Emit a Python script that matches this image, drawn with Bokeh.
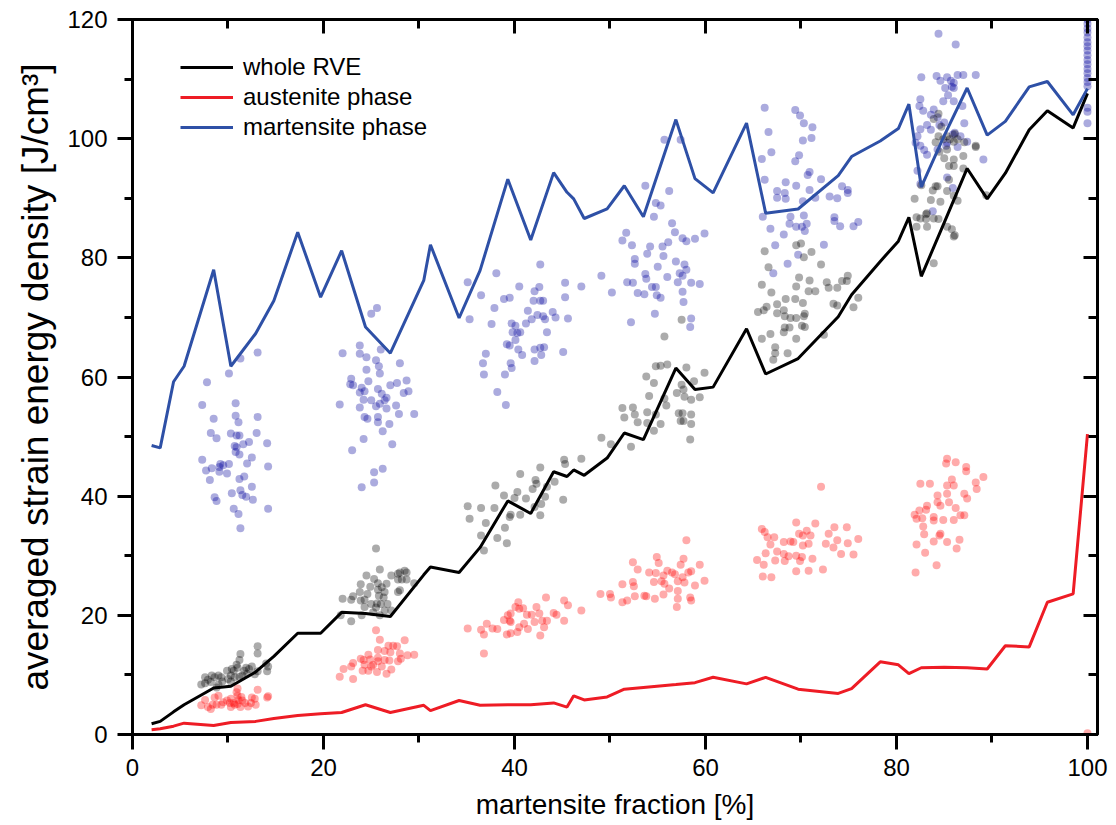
from bokeh.plotting import figure
from bokeh.models import Range1d, LinearAxis, SingleIntervalTicker, Legend, LegendItem
from bokeh.embed import file_html
from bokeh.resources import INLINE

# ---- averaged curves ----
fraction = [2.0, 2.9, 4.3, 5.4, 8.5, 10.3, 12.9, 14.8, 17.3, 19.7, 21.9, 24.4, 27.0, 30.5, 31.2,
            34.2, 36.4, 39.3, 41.7, 44.1, 45.5, 46.2, 47.3, 49.7, 51.5, 53.5, 56.9, 58.9, 60.8,
            64.3, 66.3, 69.7, 73.9, 75.3, 78.3, 80.2, 81.3, 82.6, 85.0, 87.4, 89.5, 91.4, 93.9,
            95.8, 98.5, 100.0]
whole_rve = [1.8, 2.2, 3.8, 5.0, 7.8, 8.1, 10.5, 13.1, 17.0, 17.0, 20.5, 20.3, 19.8, 26.8, 28.1,
             27.2, 31.4, 39.2, 37.1, 44.1, 43.3, 44.4, 43.5, 46.4, 50.6, 49.5, 61.5, 57.9, 58.3,
             68.1, 60.5, 63.1, 70.1, 73.8, 79.4, 82.8, 86.8, 76.9, 85.9, 95.0, 89.9, 94.2, 101.5,
             104.7, 101.8, 107.6]
austenite = [0.8, 0.95, 1.4, 1.9, 1.5, 2.0, 2.2, 2.7, 3.2, 3.5, 3.7, 5.0, 3.7, 4.9, 4.0,
             5.7, 4.9, 5.0, 5.0, 5.3, 4.6, 6.5, 5.8, 6.3, 7.6, 7.9, 8.4, 8.7, 9.6,
             8.5, 9.6, 7.6, 6.9, 7.7, 12.2, 11.7, 10.2, 11.2, 11.3, 11.2, 11.0, 14.9, 14.7,
             22.2, 23.6, 50.4]
martensite = [48.5, 48.1, 59.2, 61.8, 78.0, 61.8, 67.3, 72.8, 84.3, 73.4, 81.2, 68.4, 64.0, 76.2, 82.2,
              69.9, 77.9, 93.2, 83.0, 94.3, 91.0, 89.9, 86.6, 88.2, 92.1, 86.9, 103.2, 93.3, 90.9,
              102.6, 87.5, 88.2, 93.8, 97.0, 99.6, 101.7, 105.8, 91.9, 100.5, 108.5, 100.6, 102.9, 108.7,
              109.6, 104.0, 108.4]

# ---- individual RVE results (fraction, energy) ----
martensite_pts = [
    (7.8,59.1),(7.3,55.3),(8.5,53.0),(8.2,50.6),(8.8,49.7),(7.3,46.1),(8.3,44.7),(7.7,44.3),(8.1,42.7),(9.1,44.9),
    (9.2,45.4),(9.5,45.2),(9.1,44.1),(9.9,43.8),(10.1,45.4),(10.8,55.6),(10.8,53.5),(11.1,52.4),(10.3,50.5),(10.9,50.2),
    (11.2,50.2),(10.7,48.4),(10.9,48.2),(10.8,47.4),(11.2,47.0),(11.6,48.7),(12.2,49.1),(13.0,50.6),(13.1,53.3),(14.1,48.9),
    (14.2,45.0),(12.0,45.5),(12.5,46.5),(11.7,43.3),(11.2,42.9),(11.3,41.0),(10.4,40.5),(11.5,40.2),(11.9,39.9),(12.6,39.4),
    (12.5,41.6),(8.6,39.8),(8.8,39.2),(10.6,37.9),(11.1,37.0),(11.3,34.6),(14.2,37.9),(13.1,64.1),(11.3,63.1),(10.1,60.6),
    (22.0,64.0),(23.8,65.3),(23.8,63.9),(24.5,63.3),(25.5,62.8),(26.0,64.6),(25.8,61.8),(25.9,60.6),(24.5,61.2),(28.0,62.3),
    (22.9,59.7),(23.1,58.6),(22.8,58.8),(24.0,58.2),(23.8,57.4),(24.3,57.6),(24.7,59.3),(25.7,58.0),(26.1,57.2),(26.6,56.5),
    (27.0,58.6),(27.7,59.0),(28.7,59.4),(28.4,57.3),(28.9,57.6),(24.2,56.2),(23.8,54.9),(25.0,56.1),(25.5,55.1),(25.9,55.5),
    (26.4,56.1),(26.6,54.7),(27.6,55.2),(27.9,53.8),(29.5,53.8),(21.7,55.4),(24.3,53.3),(24.6,53.0),(25.7,53.3),(25.7,52.4),
    (26.9,52.1),(26.2,50.9),(24.2,49.6),(27.2,48.7),(23.0,47.7),(25.3,44.0),(26.2,44.6),(24.0,41.5),(25.3,42.3),(25.0,70.6),
    (25.6,71.6),
    (35.1,75.9),(38.1,77.4),(36.5,73.7),(37.9,71.6),(35.3,69.7),(37.6,68.9),(38.9,73.1),(39.5,73.3),(40.5,75.2),(42.6,75.1),
    (42.1,74.4),(42.0,72.8),(42.7,72.8),(43.0,72.8),(41.4,71.1),(42.4,70.4),(43.0,70.2),(43.2,69.7),(44.0,70.9),(44.3,70.0),
    (41.8,69.7),(41.2,69.0),(39.7,69.0),(40.1,68.6),(40.3,67.4),(39.8,67.5),(40.1,66.2),(39.2,65.5),(39.5,65.3),(40.4,64.6),
    (40.8,63.7),(42.1,64.6),(42.7,64.9),(43.1,65.0),(42.8,63.7),(42.1,62.7),(43.4,67.5),(45.1,64.2),(45.6,69.8),(45.3,73.4),
    (45.3,75.8),(42.7,78.9),(47.0,75.2),(37.0,63.9),(36.7,62.3),(36.8,60.4),(39.0,60.4),(39.7,61.5),(39.6,62.3),(38.2,57.5),
    (39.1,55.3),(40.6,67.5),
    (53.7,92.1),(56.2,91.2),(54.8,89.2),(55.3,88.8),(54.6,86.9),(56.5,85.8),(56.8,84.3),(57.6,83.3),(58.0,82.8),(58.9,83.2),
    (59.9,84.1),(56.1,82.6),(55.5,81.9),(55.6,80.3),(54.2,81.9),(53.9,80.7),(52.3,82.1),(51.7,84.2),(51.3,82.9),(52.6,79.8),
    (52.6,79.0),(53.7,77.3),(53.8,76.5),(55.0,78.5),(56.0,76.8),(56.9,79.4),(57.8,78.9),(58.0,78.0),(57.3,77.4),(57.6,77.0),
    (57.1,75.9),(58.5,75.8),(59.4,75.6),(51.8,75.9),(52.4,75.8),(52.9,74.1),(53.6,73.9),(54.4,75.1),(54.8,75.1),(54.9,73.7),
    (55.3,73.3),(57.6,74.3),(57.7,72.6),(54.7,70.6),(52.2,69.2),(58.5,69.8),(58.4,68.4),(55.7,99.8),(57.4,99.8),(49.1,77.0),
    (50.2,74.2),
    (66.2,105.2),(69.4,104.8),(69.9,103.9),(70.3,102.6),(71.2,101.9),(71.1,100.1),(66.6,101.1),(70.2,99.7),(66.9,97.7),(69.8,97.2),
    (69.4,96.2),(65.9,96.6),(66.2,93.1),(68.4,92.7),(69.5,92.1),(70.7,93.9),(70.9,94.4),(72.1,93.2),(70.9,91.4),(67.5,91.2),
    (68.3,90.9),(68.4,89.9),(67.5,90.1),(70.2,89.5),(71.5,90.1),(73.0,90.3),(73.8,90.0),(74.3,92.0),(74.9,91.4),(74.9,90.9),
    (66.0,86.9),(68.9,86.9),(70.3,87.1),(68.8,85.7),(69.5,85.2),(70.1,85.2),(70.6,85.7),(70.4,84.5),(73.5,86.8),(73.5,86.2),
    (74.1,85.3),(75.5,85.3),(76.0,86.0),(66.8,84.9),(68.2,83.9),(67.3,82.1),(69.7,80.5),(72.4,82.2),(68.6,79.0),(67.1,77.4),
    (84.4,117.6),(86.2,115.8),(82.6,110.3),(84.2,110.5),(84.6,109.7),(85.3,110.3),(85.7,109.7),(86.0,109.4),(86.4,110.7),(87.0,110.7),
    (88.3,110.7),(85.1,108.5),(85.8,108.7),(86.0,108.5),(85.4,107.3),(82.5,106.6),(84.9,106.3),(86.0,106.3),(86.9,105.5),(82.4,105.5),
    (82.8,104.7),(83.9,104.9),(83.6,104.0),(84.3,103.6),(83.2,102.3),(82.5,101.6),(83.6,101.5),(84.5,102.3),(85.0,102.7),(86.1,101.0),
    (86.7,100.4),(87.1,102.6),(87.4,99.5),(85.9,100.7),(82.2,100.4),(82.0,99.3),(82.5,98.8),(82.9,98.1),(83.2,97.3),(84.3,98.2),
    (85.2,98.8),(86.4,98.6),(89.1,96.5),(82.2,94.6),(85.3,93.5),(85.9,91.7),(83.8,87.8),(82.5,92.4),(85.3,99.3),
    (100.0,120.0),(100.0,119.3),(100.0,118.5),(100.0,117.8),(100.0,117.0),(100.0,116.2),(100.0,115.5),(100.0,114.8),
    (100.0,114.0),(100.0,113.2),(100.0,112.5),(100.0,111.7),(100.0,111.0),(100.0,110.2),(100.0,109.5),(100.0,108.8),
    (100.0,105.2),(100.0,104.5),(100.0,102.6),
]

whole_pts = [
    (13.1,14.8),(13.1,13.6),(11.3,13.5),(11.2,12.5),(10.9,11.7),(10.4,11.0),(9.9,10.7),(10.6,10.7),(11.0,11.2),(11.7,10.7),
    (11.9,11.2),(12.2,11.0),(12.5,11.4),(13.1,10.6),(12.8,10.1),(10.3,9.9),(10.7,9.6),(11.2,9.7),(11.5,9.9),(12.0,10.2),
    (14.2,11.4),(14.1,10.6),(14.0,11.9),(9.0,9.9),(9.3,9.6),(8.6,9.6),(8.3,9.9),(7.6,9.6),(7.9,9.2),(7.2,8.4),
    (7.6,8.6),(8.2,8.8),(9.0,8.4),(9.4,8.9),(10.0,9.3),(10.3,8.9),(8.8,7.9),
    (25.9,27.7),(24.5,26.7),(25.3,26.1),(25.7,25.4),(23.9,25.2),(24.9,24.8),(26.6,25.3),(27.1,26.7),(27.8,27.0),(28.5,27.5),
    (28.0,27.2),(28.7,27.2),(27.8,26.0),(28.2,26.0),(28.7,26.0),(29.5,25.4),(23.8,23.9),(24.6,23.6),(25.7,24.3),(26.1,24.7),
    (26.4,23.9),(27.8,23.9),(28.0,24.2),(22.0,22.8),(22.9,22.6),(23.1,23.2),(23.9,22.5),(24.3,22.6),(25.8,23.3),(26.3,23.0),
    (25.0,21.9),(25.6,22.0),(26.0,21.9),(26.7,21.9),(24.3,21.4),(25.5,21.3),(26.4,20.8),(21.8,20.0),(22.9,19.0),(24.0,20.0),
    (25.2,20.5),(27.1,20.8),(25.9,20.0),(25.5,31.2),
    (38.0,41.8),(38.9,40.1),(40.6,43.7),(42.7,44.8),(42.2,42.7),(41.9,41.2),(42.3,42.1),(43.4,41.6),(44.2,42.4),(45.2,46.1),
    (45.3,45.4),(47.0,46.3),(45.1,39.4),(42.7,36.8),(43.2,39.9),(40.3,40.7),(40.0,39.7),(39.6,36.9),(39.5,36.5),(40.6,36.9),
    (41.2,39.6),(42.1,38.2),(37.9,38.0),(36.5,38.0),(37.0,35.5),(39.0,34.7),(39.2,32.1),(38.2,33.0),(36.8,30.9),(36.5,33.4),
    (42.8,38.7),(35.1,38.3),(35.3,36.2),
    (55.7,66.8),(54.8,61.8),(55.3,61.9),(56.0,62.1),(53.8,60.1),(54.6,59.0),(58.0,61.6),(59.9,60.7),(58.8,59.3),(57.5,58.7),
    (57.7,57.9),(57.0,57.3),(57.8,56.7),(58.5,56.2),(59.4,56.6),(54.1,56.8),(55.7,56.4),(55.9,55.2),(51.3,54.8),(52.4,54.9),
    (51.5,53.2),(52.6,53.7),(52.9,52.4),(53.9,54.1),(53.9,52.3),(54.8,53.7),(55.3,52.1),(54.6,51.0),(57.2,53.9),(57.6,53.9),
    (57.4,52.6),(58.5,53.7),(58.5,52.1),(57.7,52.6),(58.4,49.5),(49.1,49.8),(50.1,48.7),(52.2,48.3),(57.5,69.6),
    (69.5,82.1),(70.0,82.4),(71.1,81.0),(70.3,80.1),(66.2,81.1),(72.1,78.9),(66.6,78.4),(69.8,76.7),(65.9,75.5),(66.9,74.2),
    (68.4,73.1),(69.4,73.1),(70.8,74.4),(71.5,74.4),(70.2,72.4),(69.5,75.2),(70.9,76.2),(72.7,75.9),(72.9,75.0),(73.8,75.0),
    (74.3,76.1),(74.8,76.1),(74.9,77.0),(76.0,73.3),(75.5,71.7),(73.4,72.3),(73.8,72.0),(65.5,70.9),(66.1,71.2),(66.4,71.8),
    (67.5,72.2),(67.5,70.7),(68.2,71.2),(68.3,70.2),(68.9,69.9),(69.5,69.9),(70.3,70.2),(70.4,70.6),(70.1,68.6),(70.4,68.4),
    (68.3,68.3),(68.8,68.3),(65.9,66.4),(66.8,67.2),(68.2,67.5),(69.5,66.4),(72.4,67.1),(67.3,65.0),(67.3,64.0),(67.1,62.9),
    (68.6,64.0),
    (84.4,104.2),(83.9,103.3),(84.7,102.0),(84.4,100.4),(84.1,99.4),(84.9,99.9),(85.3,100.4),(85.6,99.9),(86.0,99.5),(86.4,99.9),
    (87.1,99.4),(88.3,98.8),(86.1,100.8),(85.3,98.2),(84.5,97.8),(85.0,96.7),(86.0,96.5),(85.5,95.4),(86.0,95.4),(87.0,97.1),
    (87.0,95.0),(84.3,92.0),(84.1,92.0),(83.8,91.3),(82.6,92.2),(85.3,91.2),(85.5,93.1),(86.0,90.4),(81.9,89.9),(83.6,89.7),
    (84.6,89.4),(86.4,89.6),(82.5,86.6),(82.1,85.2),(83.1,86.5),(83.2,87.5),(84.4,86.5),(85.3,85.2),(85.8,84.8),(86.0,83.6),
    (83.9,79.1),(89.4,90.5),(82.1,86.8),(83.1,87.3),(83.9,86.6),(83.2,85.2),(86.1,83.8),(88.3,98.6),
]

austenite_pts = [
    (7.2,4.9),(7.6,5.8),(7.9,4.6),(8.2,4.3),(8.4,5.0),(8.6,6.2),(8.8,5.0),(9.0,6.5),(9.3,5.0),(9.5,5.4),
    (9.9,5.7),(10.3,6.0),(10.2,5.3),(10.3,4.6),(10.7,5.0),(10.9,7.1),(11.0,6.5),(11.1,5.8),(11.0,5.1),(11.3,4.6),
    (11.5,5.7),(11.8,5.3),(12.1,4.7),(12.4,5.3),(12.5,6.2),(12.9,5.0),(13.1,7.5),(12.8,6.0),(14.1,6.2),(14.2,6.4),
    (11.0,7.7),(10.6,5.3),(11.4,6.3),
    (25.5,17.5),(25.9,15.9),(25.7,14.2),(26.8,14.9),(27.3,14.9),(27.7,14.8),(28.5,15.8),(27.0,13.8),(26.4,14.0),(28.0,13.6),
    (28.8,13.3),(29.5,13.4),(24.7,13.4),(23.9,12.7),(24.2,12.5),(24.9,12.6),(25.7,12.9),(26.4,12.5),(26.9,12.4),(27.8,12.3),
    (28.1,12.7),(25.2,11.7),(25.7,12.3),(26.1,11.4),(27.1,10.9),(26.6,10.2),(25.6,10.5),(24.7,10.7),(24.3,11.7),(23.1,12.0),
    (22.9,11.4),(22.1,11.0),(21.7,9.7),(23.1,9.3),(25.0,11.4),(24.1,10.7),
    (35.1,17.8),(36.5,17.6),(36.8,16.8),(36.8,13.6),(37.1,18.6),(37.7,17.8),(38.2,17.7),(38.9,19.2),(39.3,20.0),(39.6,18.9),
    (39.6,20.3),(40.1,21.4),(40.4,22.2),(40.5,21.1),(40.9,21.2),(40.5,18.0),(41.0,18.6),(41.3,20.1),(41.4,17.7),(42.1,18.9),
    (41.8,20.1),(42.3,21.4),(42.6,20.3),(42.9,19.1),(42.7,16.6),(43.3,23.0),(43.1,18.0),(43.4,19.1),(44.1,20.4),(44.4,20.1),
    (45.2,22.5),(45.6,21.7),(45.2,19.1),(47.0,20.8),(39.2,16.8),(39.6,17.0),(40.3,17.2),(39.5,19.1),
    (58.0,32.6),(52.4,28.9),(52.9,27.7),(54.9,29.8),(55.1,28.8),(54.1,27.2),(54.8,27.1),(56.0,27.5),(56.5,27.2),(56.8,26.9),
    (57.4,28.5),(57.7,29.5),(58.2,27.2),(58.5,27.4),(59.4,28.5),(55.6,26.7),(55.4,25.7),(54.6,25.6),(55.7,25.3),(56.2,24.5),
    (57.1,25.7),(57.6,26.4),(57.8,25.5),(58.9,25.0),(59.9,25.8),(57.1,24.1),(55.6,23.5),(54.7,22.8),(53.8,23.2),(53.6,23.3),
    (52.6,23.2),(51.8,22.5),(51.3,22.2),(51.3,25.2),(52.4,25.6),(52.5,24.9),(57.1,22.8),(58.4,23.0),(58.5,22.5),(57.0,21.4),
    (50.1,23.0),(49.0,23.6),(50.0,23.6),
    (72.1,41.6),(69.5,35.6),(71.5,35.4),(73.5,34.8),(74.8,34.8),(65.9,34.5),(66.2,34.0),(66.5,33.1),(67.2,33.1),(68.2,32.3),
    (68.9,32.4),(69.2,32.3),(69.8,33.7),(70.2,33.4),(70.6,34.2),(71.0,33.4),(72.9,33.7),(73.8,32.6),(76.0,32.8),(66.8,31.9),
    (70.2,31.7),(70.8,32.0),(72.6,32.0),(73.4,31.4),(74.9,32.1),(65.4,29.3),(66.3,30.4),(67.5,30.7),(68.2,30.3),(68.7,29.9),
    (69.5,30.0),(70.1,29.8),(71.2,29.5),(68.3,29.1),(67.3,29.2),(66.1,28.5),(69.9,29.1),(74.2,30.3),(75.5,30.2),(66.0,26.5),
    (66.9,26.4),(69.5,27.4),(70.8,27.5),(72.3,27.7),
    (85.3,46.3),(85.2,45.5),(86.2,45.7),(87.3,44.9),(87.3,44.2),(89.1,43.2),(88.3,42.3),(88.4,41.2),(82.5,42.1),(83.5,42.1),
    (85.8,42.8),(85.3,41.8),(86.0,41.8),(84.3,40.1),(85.3,40.4),(87.1,40.4),(87.4,39.6),(84.3,39.0),(84.6,38.4),(85.5,39.0),
    (86.2,38.0),(83.2,38.4),(83.1,37.7),(82.4,37.6),(81.9,36.9),(82.1,36.2),(82.7,36.3),(83.9,36.5),(84.9,36.0),(86.0,36.0),
    (86.7,36.8),(87.1,36.8),(82.8,34.9),(83.9,35.9),(84.6,33.7),(84.5,33.4),(82.9,33.6),(83.9,32.4),(85.3,32.3),(86.6,32.7),
    (82.1,31.9),(83.0,30.5),(86.3,31.2),(84.2,28.4),(82.0,27.2),
    (100.0,0.2),
]

FONT = "Liberation Sans"

p = figure(width=1116, height=825, output_backend="svg", toolbar_location=None,
           x_range=Range1d(0, 101.05), y_range=Range1d(0, 120),
           min_border_left=132, min_border_right=19, min_border_top=19, min_border_bottom=91)
p.background_fill_color = "white"
p.border_fill_color = "white"
p.grid.visible = False
p.outline_line_color = "black"
p.outline_line_width = 3


def style_axis(ax, inward=False):
    ax.ticker = SingleIntervalTicker(interval=20, num_minor_ticks=2)
    ax.axis_line_width = 3
    ax.axis_line_color = "black"
    ax.major_tick_line_width = 3
    ax.minor_tick_line_width = 3
    ax.major_tick_line_color = "black"
    ax.minor_tick_line_color = "black"
    if inward:
        ax.major_tick_in = 14
        ax.major_tick_out = 0
        ax.minor_tick_in = 9
        ax.minor_tick_out = 0
        ax.major_label_text_font_size = "1px"
        ax.major_label_text_color = None
        ax.major_label_text_alpha = 0
        ax.major_label_standoff = 0
    else:
        ax.major_tick_in = 0
        ax.major_tick_out = 15
        ax.minor_tick_in = 0
        ax.minor_tick_out = 8
        ax.major_label_text_font = FONT
        ax.major_label_text_font_size = "24px"
        ax.major_label_text_color = "black"
        ax.axis_label_text_font = FONT
        ax.axis_label_text_font_style = "normal"
        ax.axis_label_text_color = "black"


style_axis(p.xaxis[0])
style_axis(p.yaxis[0])
p.xaxis[0].axis_label = "martensite fraction [%]"
p.yaxis[0].axis_label = "averaged strain energy density [J/cm³]"
p.xaxis[0].axis_label_text_font_size = "28px"
p.yaxis[0].axis_label_text_font_size = "37px"
p.xaxis[0].major_label_standoff = 9
p.yaxis[0].major_label_standoff = 10
p.xaxis[0].axis_label_standoff = 10
p.yaxis[0].axis_label_standoff = 8

top_ax = LinearAxis()
right_ax = LinearAxis()
style_axis(top_ax, inward=True)
style_axis(right_ax, inward=True)
p.add_layout(top_ax, "above")
p.add_layout(right_ax, "right")

mx, my = zip(*martensite_pts)
wx, wy = zip(*whole_pts)
ax_, ay = zip(*austenite_pts)
p.scatter(list(mx), list(my), size=8, fill_color="#00009a", fill_alpha=0.33, line_color=None)
p.scatter(list(wx), list(wy), size=8, fill_color="black", fill_alpha=0.33, line_color=None)
p.scatter(list(ax_), list(ay), size=8, fill_color="#ff0000", fill_alpha=0.33, line_color=None)

r_whole = p.line(fraction, whole_rve, line_color="black", line_width=3)
r_aus = p.line(fraction, austenite, line_color="#ee1c25", line_width=3)
r_mar = p.line(fraction, martensite, line_color="#2e50a6", line_width=3)

legend = Legend(items=[LegendItem(label="whole RVE", renderers=[r_whole]),
                       LegendItem(label="austenite phase", renderers=[r_aus]),
                       LegendItem(label="martensite phase", renderers=[r_mar])],
                location=(48, 592))
legend.label_text_font = FONT
legend.label_text_font_size = "24px"
legend.label_text_color = "black"
legend.glyph_width = 53
legend.glyph_height = 30
legend.label_height = 30
legend.spacing = 0
legend.padding = 0
legend.margin = 0
legend.label_standoff = 10
legend.border_line_color = None
legend.background_fill_alpha = 0
p.add_layout(legend)

open("out.html", "w").write(file_html(p, INLINE))
